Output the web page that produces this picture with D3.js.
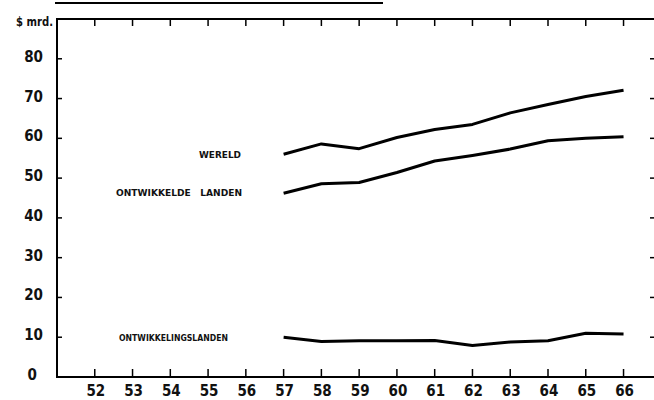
<!DOCTYPE html>
<meta charset='utf-8'>
<style>
    body { margin: 0; background: #fff; }
    svg { display: block; }
    text { font-family: 'DejaVu Sans Condensed', 'DejaVu Sans', sans-serif; font-weight: bold; fill: #111; }
    .axis-label { font-size: 15px; }
    .series-label { font-size: 8px; }
</style>
<body>
<script src='https://cdn.jsdelivr.net/npm/d3@7/dist/d3.min.js'></script>
<script>
// data
const years = [57, 58, 59, 60, 61, 62, 63, 64, 65, 66];
const wereld = [56, 58.6, 57.4, 60.2, 62.2, 63.5, 66.4, 68.5, 70.5, 72.1];
const ontwikkeld = [46.2, 48.6, 48.9, 51.4, 54.3, 55.7, 57.3, 59.4, 60, 60.4];
const ontwikkeling = [10, 8.9, 9.1, 9.1, 9.2, 7.9, 8.8, 9.1, 11, 10.8];
const xTicks = [52, 53, 54, 55, 56, 57, 58, 59, 60, 61, 62, 63, 64, 65, 66];
const yTicks = [0, 10, 20, 30, 40, 50, 60, 70, 80];
const seriesNames = ['WERELD', 'ONTWIKKELDE   LANDEN', 'ONTWIKKELINGSLANDEN'];

const W = 654, H = 400;
const plotLeft = 57, plotRight = 653, plotTop = 19, plotBottom = 377;

const svg = d3.select('body').append('svg')
    .attr('width', W).attr('height', H);

const x = d3.scaleLinear().domain([51, 66.78]).range([plotLeft, plotRight]);
const y = d3.scaleLinear().domain([0, 90]).range([plotBottom, plotTop]);

// stray rule above the chart
svg.append('line')
    .attr('x1', 55).attr('x2', 383).attr('y1', 3).attr('y2', 3)
    .attr('stroke', '#000').attr('stroke-width', 2);

// frame
const frame = svg.append('g').attr('stroke', '#000').attr('fill', 'none');
frame.append('line').attr('x1', plotLeft).attr('x2', W).attr('y1', plotTop).attr('y2', plotTop).attr('stroke-width', 2);
frame.append('line').attr('x1', plotLeft).attr('x2', W).attr('y1', plotBottom).attr('y2', plotBottom).attr('stroke-width', 2);
frame.append('line').attr('x1', plotLeft).attr('x2', plotLeft).attr('y1', plotTop - 1).attr('y2', plotBottom + 1).attr('stroke-width', 2);

// x ticks, inward on top and bottom
frame.selectAll('.tt').data(xTicks).enter().append('line')
    .attr('x1', d => x(d)).attr('x2', d => x(d))
    .attr('y1', plotTop).attr('y2', plotTop + 7).attr('stroke-width', 1.5);
frame.selectAll('.bt').data(xTicks).enter().append('line')
    .attr('x1', d => x(d)).attr('x2', d => x(d))
    .attr('y1', plotBottom).attr('y2', plotBottom - 8).attr('stroke-width', 1.5);

// y ticks, inward on left and right
frame.selectAll('.lt').data(yTicks.slice(1)).enter().append('line')
    .attr('x1', plotLeft).attr('x2', plotLeft + 5)
    .attr('y1', d => y(d)).attr('y2', d => y(d)).attr('stroke-width', 1.5);
frame.selectAll('.rt').data(yTicks.slice(1)).enter().append('line')
    .attr('x1', plotRight - 3).attr('x2', W)
    .attr('y1', d => y(d)).attr('y2', d => y(d)).attr('stroke-width', 1.5);

// tick labels
svg.selectAll('.xl').data(xTicks).enter().append('text')
    .attr('class', 'axis-label')
    .attr('x', d => x(d) + 1).attr('y', 396)
    .attr('text-anchor', 'middle')
    .text(d => d);
svg.selectAll('.yl').data(yTicks).enter().append('text')
    .attr('class', 'axis-label')
    .attr('x', d => d === 0 ? 37 : 43).attr('y', d => y(d) + 3)
    .attr('text-anchor', 'end')
    .text(d => d);
svg.append('text')
    .attr('class', 'axis-label')
    .attr('x', 16).attr('y', 26)
    .attr('textLength', 37)
    .attr('lengthAdjust', 'spacingAndGlyphs')
    .style('font-size', '13px')
    .text('$ mrd.');

// lines
const line = d3.line()
    .x((d, i) => x(years[i]))
    .y(d => y(d));

[wereld, ontwikkeld, ontwikkeling].forEach(s => {
    svg.append('path')
        .datum(s)
        .attr('d', line)
        .attr('fill', 'none')
        .attr('stroke', '#000')
        .attr('stroke-width', 3)
        .attr('stroke-linejoin', 'round');
});

// series labels
const labelPos = [
    { x: 199, y: 158, w: 42 },
    { x: 116, y: 196, w: 126 },
    { x: 119, y: 341, w: 109 }
];
svg.selectAll('.sl').data(seriesNames).enter().append('text')
    .attr('class', 'series-label')
    .attr('x', (d, i) => labelPos[i].x)
    .attr('y', (d, i) => labelPos[i].y)
    .attr('textLength', (d, i) => labelPos[i].w)
    .attr('lengthAdjust', 'spacingAndGlyphs')
    .style('white-space', 'pre')
    .text(d => d);
</script>
</body>
